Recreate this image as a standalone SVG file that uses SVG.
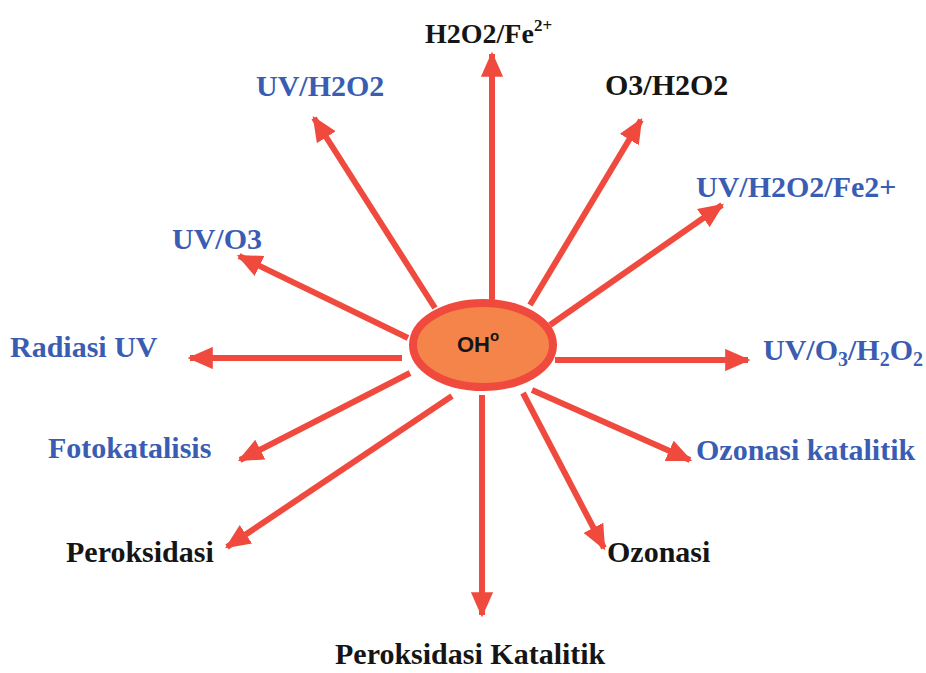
<svg xmlns="http://www.w3.org/2000/svg" width="926" height="673" viewBox="0 0 926 673">
<defs>
<marker id="ah" markerWidth="4.2" markerHeight="3.7" refX="3.8" refY="1.85" orient="auto" markerUnits="strokeWidth">
<path d="M0,0 L4.2,1.85 L0,3.7 Z" fill="#F04A3E"/>
</marker>
<style>
.c line{stroke:#F04A3E;stroke-width:6;marker-end:url(#ah)}
text{font-family:"Liberation Serif","Times New Roman",serif;font-weight:bold;font-size:30px}
.b{fill:#3A5DB3}
.k{fill:#151515}
</style>
</defs>
<rect width="926" height="673" fill="#fff"/>
<g class="c" id="connectors">
<line x1="492" y1="300" x2="492" y2="54"/>
<line x1="435" y1="308" x2="314" y2="118"/>
<line x1="530" y1="305" x2="641" y2="120"/>
<line x1="550" y1="325" x2="722" y2="205"/>
<line x1="408" y1="338" x2="239" y2="256"/>
<line x1="402" y1="358" x2="190" y2="358"/>
<line x1="555" y1="360" x2="748" y2="360"/>
<line x1="410" y1="373" x2="240" y2="460"/>
<line x1="532" y1="390" x2="690" y2="460"/>
<line x1="452" y1="396" x2="227" y2="547"/>
<line x1="523" y1="393" x2="604" y2="548"/>
<line x1="482" y1="395" x2="482" y2="615"/>
</g>
<g id="center">
<ellipse cx="483" cy="345" rx="70" ry="42" fill="#F5844A" stroke="#F04A3E" stroke-width="8"/>
<text x="478" y="352" text-anchor="middle" style="font-family:'Liberation Sans',Arial,sans-serif;font-size:22px" class="k">OH<tspan dy="-11" font-size="15">o</tspan></text>
</g>
<g id="n1"><text class="k" x="425" y="43" style="font-size:28px">H2O2/Fe<tspan dy="-12" font-size="17">2+</tspan></text></g>
<g id="n2"><text class="b" x="256" y="96">UV/H2O2</text></g>
<g id="n3"><text class="k" x="605" y="95">O3/H2O2</text></g>
<g id="n4"><text class="b" x="696" y="197">UV/H2O2/Fe2+</text></g>
<g id="n5"><text class="b" x="172" y="249">UV/O3</text></g>
<g id="n6"><text class="b" x="10" y="357">Radiasi UV</text></g>
<g id="n7"><text class="b" x="763" y="360">UV/O<tspan dy="6" font-size="20">3</tspan><tspan dy="-6">/H</tspan><tspan dy="6" font-size="20">2</tspan><tspan dy="-6">O</tspan><tspan dy="6" font-size="20">2</tspan></text></g>
<g id="n8"><text class="b" x="48" y="458">Fotokatalisis</text></g>
<g id="n9"><text class="b" x="696" y="460">Ozonasi katalitik</text></g>
<g id="n10"><text class="k" x="66" y="562">Peroksidasi</text></g>
<g id="n11"><text class="k" x="607" y="562">Ozonasi</text></g>
<g id="n12"><text class="k" x="335" y="664">Peroksidasi Katalitik</text></g>
</svg>
